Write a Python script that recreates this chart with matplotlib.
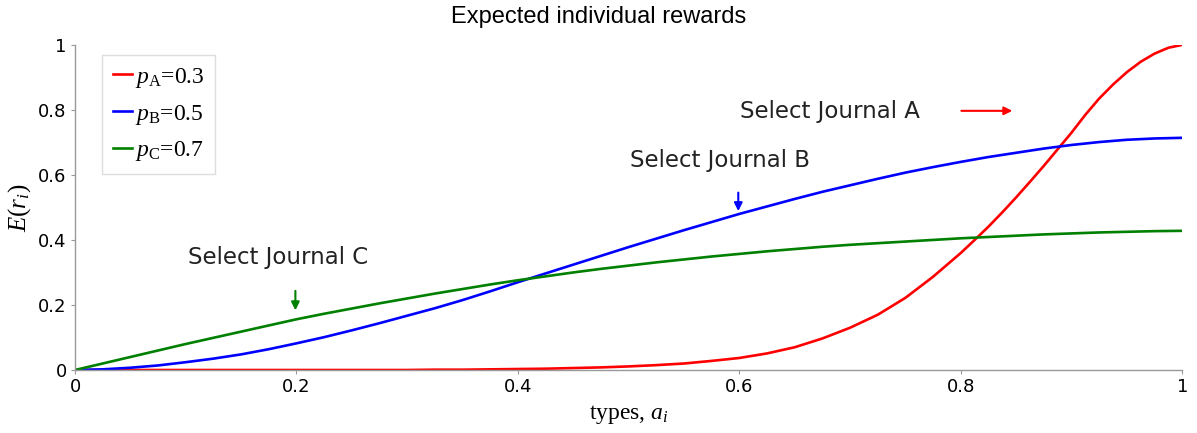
import numpy as np
import matplotlib
matplotlib.use("Agg")
import matplotlib.pyplot as plt

plt.rcParams["mathtext.fontset"] = "custom"
plt.rcParams["mathtext.rm"] = "Liberation Serif"
plt.rcParams["mathtext.it"] = "Liberation Serif:italic"

# values, x step 0.025 (red finer near the top)
types = np.round(np.arange(0, 1.0001, 0.025), 3)
types_a = [0, 0.3, 0.325, 0.35, 0.375, 0.4, 0.425, 0.45, 0.475, 0.5, 0.525, 0.55,
           0.575, 0.6, 0.625, 0.65, 0.675, 0.7, 0.725, 0.75, 0.775, 0.8, 0.8125,
           0.825, 0.8375, 0.85, 0.8625, 0.875, 0.8875, 0.9, 0.9125, 0.925, 0.9375,
           0.95, 0.9625, 0.975, 0.9875, 1.0]
reward_a = [0, 0, 0.001, 0.001, 0.002, 0.003, 0.004, 0.006, 0.008, 0.011, 0.015,
            0.02, 0.028, 0.037, 0.051, 0.07, 0.097, 0.13, 0.17, 0.222, 0.287, 0.36,
            0.4, 0.441, 0.485, 0.531, 0.579, 0.628, 0.679, 0.73, 0.785, 0.835,
            0.878, 0.916, 0.948, 0.973, 0.991, 1.0]
reward_b = [0, 0.002, 0.007, 0.014, 0.024, 0.035, 0.048, 0.064, 0.082, 0.101,
            0.122, 0.144, 0.167, 0.19, 0.215, 0.242, 0.27, 0.297, 0.324, 0.351,
            0.378, 0.404, 0.43, 0.455, 0.48, 0.503, 0.526, 0.548, 0.568, 0.588,
            0.607, 0.624, 0.64, 0.655, 0.668, 0.681, 0.692, 0.701, 0.708, 0.712, 0.714]
reward_c = [0, 0.02, 0.04, 0.06, 0.08, 0.099, 0.118, 0.137, 0.156, 0.173,
            0.189, 0.205, 0.22, 0.235, 0.249, 0.263, 0.276, 0.288, 0.3, 0.311,
            0.321, 0.331, 0.34, 0.349, 0.357, 0.365, 0.372, 0.379, 0.385, 0.39,
            0.395, 0.4, 0.405, 0.409, 0.413, 0.417, 0.42, 0.423, 0.425, 0.427, 0.428]

labels = [r"$p_{\mathrm{A}}$=0.3", r"$p_{\mathrm{B}}$=0.5", r"$p_{\mathrm{C}}$=0.7"]
colors = ["#ff0000", "#0000ff", "#008000"]

fig = plt.figure(figsize=(11.97, 4.33), dpi=100)
ax = fig.add_axes([0.0627, 0.1455, 0.925, 0.751])

xs = [types_a, types, types]
for x, y, lab, c in zip(xs, [reward_a, reward_b, reward_c], labels, colors):
    ax.plot(x, y, color=c, lw=1.9, label=lab)

ax.set_xlim(0, 1)
ax.set_ylim(0, 1)
ticks = [0, 0.2, 0.4, 0.6, 0.8, 1]
ticklabels = ["0", "0.2", "0.4", "0.6", "0.8", "1"]
ax.set_xticks(ticks)
ax.set_xticklabels(ticklabels)
ax.set_yticks(ticks)
ax.set_yticklabels(ticklabels)
ax.tick_params(labelsize=13, length=3, color="#999999", pad=3)
for s in ["top", "right"]:
    ax.spines[s].set_visible(False)
for s in ["left", "bottom"]:
    ax.spines[s].set_color("#999999")
    ax.spines[s].set_linewidth(1)

ax.set_xlabel(r"types, $a_i$", fontsize=17, family="Liberation Serif", labelpad=5)
ax.set_ylabel(r"$E(r_i)$", fontsize=18, labelpad=4)
fig.text(0.5, 0.96, "Expected individual rewards", ha="center", va="center",
         fontsize=17, family="Liberation Sans")

leg = ax.legend(loc="upper left", bbox_to_anchor=(0.0244, 0.969), borderaxespad=0,
                prop={"family": "Liberation Serif", "size": 17},
                handlelength=0.8, handletextpad=0.15, fancybox=False,
                framealpha=1, edgecolor="#dddddd", borderpad=0.45, labelspacing=0.55)
leg.get_frame().set_linewidth(1)

txt = dict(fontsize=16.5, color="#222222", va="center", ha="left")
ax.text(0.601, 0.795, "Select Journal A", **txt)
ax.text(0.5014, 0.643, "Select Journal B", **txt)
ax.text(0.102, 0.345, "Select Journal C", **txt)

ax.annotate("", xy=(0.849, 0.797), xytext=(0.798, 0.797),
            arrowprops=dict(arrowstyle="-|>", color=colors[0], lw=1.5, mutation_scale=12))
ax.annotate("", xy=(0.599, 0.48), xytext=(0.599, 0.554),
            arrowprops=dict(arrowstyle="-|>", color=colors[1], lw=1.5, mutation_scale=12))
ax.annotate("", xy=(0.199, 0.175), xytext=(0.199, 0.252),
            arrowprops=dict(arrowstyle="-|>", color=colors[2], lw=1.5, mutation_scale=12))

fig.savefig("out.png", dpi=100)
